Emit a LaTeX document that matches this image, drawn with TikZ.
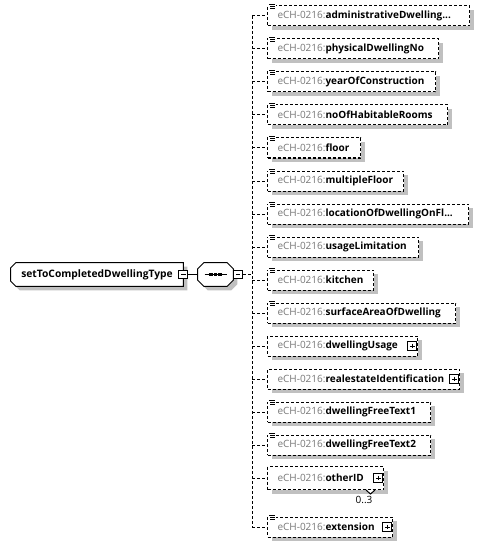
\documentclass[tikz,border=0pt]{standalone}
\usepackage{fontspec}
\setmainfont{Open Sans}
\usetikzlibrary{shadows, calc, positioning, backgrounds}
\definecolor{prefixgray}{RGB}{120,120,120}
\definecolor{shadowgray}{RGB}{192,192,192}

\begin{document}
\begin{tikzpicture}[x=0.75pt, y=-0.75pt,
    font=\fontsize{7.5}{9}\selectfont,
    conn/.style={line width=0.75pt, dash pattern=on 2.25pt off 1.5pt},
    boxshadow/.style={drop shadow={shadow xshift=3pt, shadow yshift=-3pt, opacity=1, fill=shadowgray}},
    elbox/.style={draw, conn, fill=white, anchor=west, inner xsep=7.5pt, inner ysep=0pt, align=left, boxshadow},
    outline/.style={draw, line width=0.75pt, fill=white},
    outshadow/.style={fill=shadowgray, transform canvas={shift={(3pt,-3pt)}}},
    minusbox/.style={draw, solid, line width=0.75pt, fill=white, minimum size=6.5pt, inner sep=0pt,
      path picture={\draw[line width=0.75pt] ([xshift=1.5pt]path picture bounding box.west) -- ([xshift=-1.5pt]path picture bounding box.east);}},
    plusbox/.style={minusbox,
      path picture={\draw[line width=0.75pt] ([xshift=1.5pt]path picture bounding box.west) -- ([xshift=-1.5pt]path picture bounding box.east)
        ([yshift=-1.5pt]path picture bounding box.north) -- ([yshift=1.5pt]path picture bounding box.south);}}]
  \useasboundingbox (0,0) rectangle (483,549);

  % complex type and its sequence
  \node[minimum width=129pt, minimum height=17.25pt, inner sep=0pt, font=\fontsize{7.7}{9}\selectfont\bfseries] (type) at (97,274.5) {setToCompletedDwellingType};
  \node[minimum width=26.25pt, minimum height=17.25pt, inner sep=0pt] (seq) at (215.5,274.5) {};
  \begin{scope}[on background layer]
    \foreach \st in {outshadow, outline}{
      \path[\st] ($(type.north west)+(5,0)$) -- (type.north east) -- (type.south east)
        -- ($(type.south west)+(5,0)$) -- ($(type.south west)+(0,-5)$) -- ($(type.north west)+(0,5)$) -- cycle;
      \path[\st] ($(seq.north west)+(6,0)$) -- ($(seq.north east)+(-6,0)$) -- ($(seq.north east)+(0,6)$)
        -- ($(seq.south east)+(0,-6)$) -- ($(seq.south east)+(-6,0)$) -- ($(seq.south west)+(6,0)$)
        -- ($(seq.south west)+(0,-6)$) -- ($(seq.north west)+(0,6)$) -- cycle;
    }
  \end{scope}
  \node[minusbox] (tm) at (type.east) {};
  \node[minusbox, anchor=west] (sm) at (seq.east) {};
  \draw[line width=0.75pt] (tm) -- (seq);
  % sequence symbol
  \draw[line width=0.75pt] ($(seq.center)+(-11,0)$) -- ($(seq.center)+(11,0)$);
  \foreach \d in {-4.5,0,4.5}
    \fill ($(seq.center)+(\d,0)$) +(-1.6,-1.6) rectangle +(1.6,1.6);

  % spine of the sequence
  \coordinate (spine top) at (252,16);
  \coordinate (spine bot) at (252,527);
  \draw[conn] (spine top) -- (spine bot);
  \draw[conn] (sm.east) -- (sm.east -| spine top);

  % child elements: index/y/right edge/height/name/doc icon/plus
  \foreach \n/\yy/\rr/\hh/\nm/\doc/\pl in {
      1/16/469/20/administrativeDwelling.{}.{}./1/0,
      2/49/438/20/physicalDwellingNo/1/0,
      3/82/435/20/yearOfConstruction/1/0,
      4/115/447/20/noOfHabitableRooms/1/0,
      5/148/360/20/floor/1/0,
      6/181/403/20/multipleFloor/1/0,
      7/214/468/20/locationOfDwellingOnFl.{}.{}./1/0,
      8/247/418/20/usageLimitation/1/0,
      9/280/373/20/kitchen/1/0,
      10/313/455/20/surfaceAreaOfDwelling/1/0,
      11/346/417/20/dwellingUsage/0/1,
      12/379/459/20/realestateIdentification/0/1,
      13/412/430/20/dwellingFreeText1/1/0,
      14/445/430/20/dwellingFreeText2/1/0,
      15/478/383/23/otherID/0/1,
      16/527/392/20/extension/1/1}{
    \pgfmathsetmacro\tw{(\rr-267)*0.75-15}
    \pgfmathsetmacro\bh{\hh*0.75}
    \node[elbox, text width=\tw pt, minimum height=\bh pt] (e\n) at (267,\yy)
      {\mbox{\textcolor{prefixgray}{eCH-0216:}\textbf{\nm}}};
    \draw[conn] (e\n.west -| spine top) -- (e\n.west);
    \ifnum\doc=1
      \fill[white] ($(e\n.north west)+(1,-2)$) rectangle +(8,7);
      \draw[line width=0.75pt] ($(e\n.north west)+(2,-1)$) -- +(6,0)
        ($(e\n.north west)+(3,1)$) -- +(5,0)
        ($(e\n.north west)+(3,3)$) -- +(5,0);
    \fi
    \ifnum\pl=1
      \node[plusbox, anchor=east] (p\n) at ($(e\n.east)+(-1,0)$) {};
    \fi
  }

  % occurrence of otherID
  \draw[line width=0.75pt, fill=white] ($(e15.south east)+(-18,0)$) -- ($(e15.south east)+(-13.5,4)$) -- ($(e15.south east)+(-9,0)$);
  \node[anchor=north, inner sep=0pt] (occ) at ($(e15.south east)+(-20,6)$) {0..3};
\end{tikzpicture}
\end{document}
